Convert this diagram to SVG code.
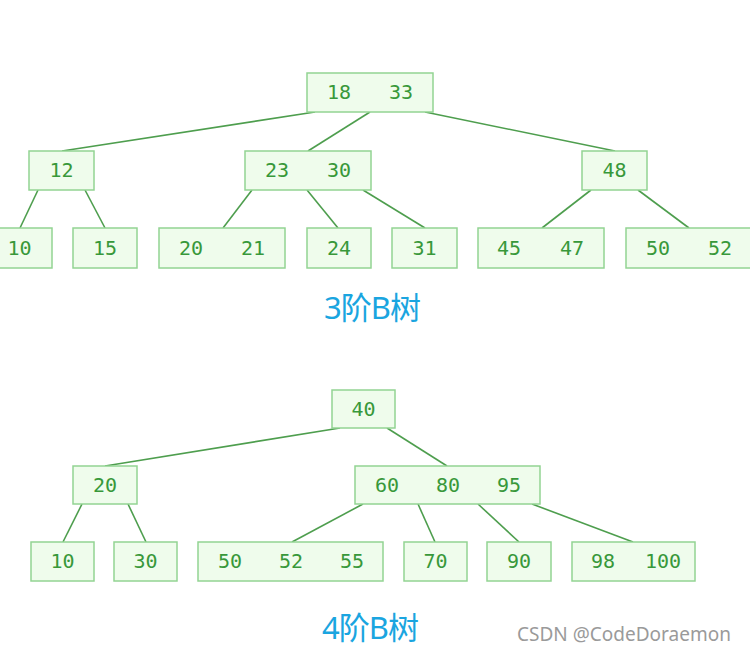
<svg xmlns="http://www.w3.org/2000/svg" width="750" height="652" viewBox="0 0 750 652">
<style>
.n rect{fill:#effcec;stroke:#93d493;stroke-width:1.5}
.n text{font-family:"DejaVu Sans Mono","Liberation Mono",monospace;font-size:20px;fill:#38983a;text-anchor:middle;dominant-baseline:central}
.e line{stroke:#4e9e4e;stroke-width:1.6}
.t{font-family:"Noto Sans","Noto Sans CJK SC",sans-serif;font-size:31px;fill:#1aa5e0;text-anchor:middle;letter-spacing:-1px}
.w{font-family:"Noto Sans","Liberation Sans",sans-serif;font-size:19px;fill:#9a9a9a}
</style>
<rect width="750" height="652" fill="#ffffff"/>
<g id="edges" class="e">
<line x1="315" y1="112" x2="62" y2="151"/>
<line x1="370" y1="112" x2="308" y2="151"/>
<line x1="425" y1="112" x2="615" y2="151"/>
<line x1="38" y1="190" x2="20" y2="228"/>
<line x1="85" y1="190" x2="105" y2="228"/>
<line x1="252" y1="190" x2="223" y2="228"/>
<line x1="307" y1="190" x2="338" y2="228"/>
<line x1="363" y1="190" x2="425" y2="228"/>
<line x1="591" y1="190" x2="542" y2="228"/>
<line x1="638" y1="190" x2="689" y2="228"/>
<line x1="340" y1="428" x2="105" y2="466"/>
<line x1="387" y1="428" x2="447" y2="466"/>
<line x1="82" y1="504" x2="63" y2="542"/>
<line x1="128" y1="504" x2="146" y2="542"/>
<line x1="363" y1="504" x2="292" y2="542"/>
<line x1="418" y1="504" x2="435" y2="542"/>
<line x1="478" y1="504" x2="519" y2="542"/>
<line x1="532" y1="504" x2="633" y2="542"/>
</g>
<g id="n18_33" class="n"><rect x="307" y="73" width="126" height="39"/><text x="339" y="92">18</text><text x="401" y="92">33</text></g>
<g id="n12" class="n"><rect x="29" y="151" width="65" height="39"/><text x="61.5" y="170">12</text></g>
<g id="n23_30" class="n"><rect x="245" y="151" width="126" height="39"/><text x="277" y="170">23</text><text x="339" y="170">30</text></g>
<g id="n48" class="n"><rect x="582" y="151" width="65" height="39"/><text x="614.5" y="170">48</text></g>
<g id="n10a" class="n"><rect x="-13" y="228" width="65" height="40"/><text x="19.5" y="248">10</text></g>
<g id="n15" class="n"><rect x="73" y="228" width="64" height="40"/><text x="105" y="248">15</text></g>
<g id="n20_21" class="n"><rect x="159" y="228" width="126" height="40"/><text x="191" y="248">20</text><text x="253" y="248">21</text></g>
<g id="n24" class="n"><rect x="307" y="228" width="64" height="40"/><text x="339" y="248">24</text></g>
<g id="n31" class="n"><rect x="392" y="228" width="65" height="40"/><text x="424.5" y="248">31</text></g>
<g id="n45_47" class="n"><rect x="478" y="228" width="126" height="40"/><text x="509" y="248">45</text><text x="572" y="248">47</text></g>
<g id="n50_52" class="n"><rect x="626" y="228" width="126" height="40"/><text x="658" y="248">50</text><text x="720" y="248">52</text></g>
<text class="t" x="372" y="319">3阶B树</text>
<g id="n40" class="n"><rect x="332" y="390" width="63" height="38"/><text x="363.5" y="409">40</text></g>
<g id="n20" class="n"><rect x="73" y="466" width="64" height="38"/><text x="105" y="485">20</text></g>
<g id="n60_80_95" class="n"><rect x="355" y="466" width="185" height="38"/><text x="387" y="485">60</text><text x="448" y="485">80</text><text x="509" y="485">95</text></g>
<g id="n10b" class="n"><rect x="31" y="542" width="63" height="39"/><text x="62.5" y="561">10</text></g>
<g id="n30" class="n"><rect x="114" y="542" width="63" height="39"/><text x="145.5" y="561">30</text></g>
<g id="n50_52_55" class="n"><rect x="198" y="542" width="185" height="39"/><text x="230" y="561">50</text><text x="291" y="561">52</text><text x="352" y="561">55</text></g>
<g id="n70" class="n"><rect x="404" y="542" width="63" height="39"/><text x="435.5" y="561">70</text></g>
<g id="n90" class="n"><rect x="487" y="542" width="64" height="39"/><text x="519" y="561">90</text></g>
<g id="n98_100" class="n"><rect x="572" y="542" width="123" height="39"/><text x="603" y="561">98</text><text x="663" y="561">100</text></g>
<text class="t" x="370" y="639">4阶B树</text>
<text class="w" x="517" y="641">CSDN @CodeDoraemon</text>
</svg>
